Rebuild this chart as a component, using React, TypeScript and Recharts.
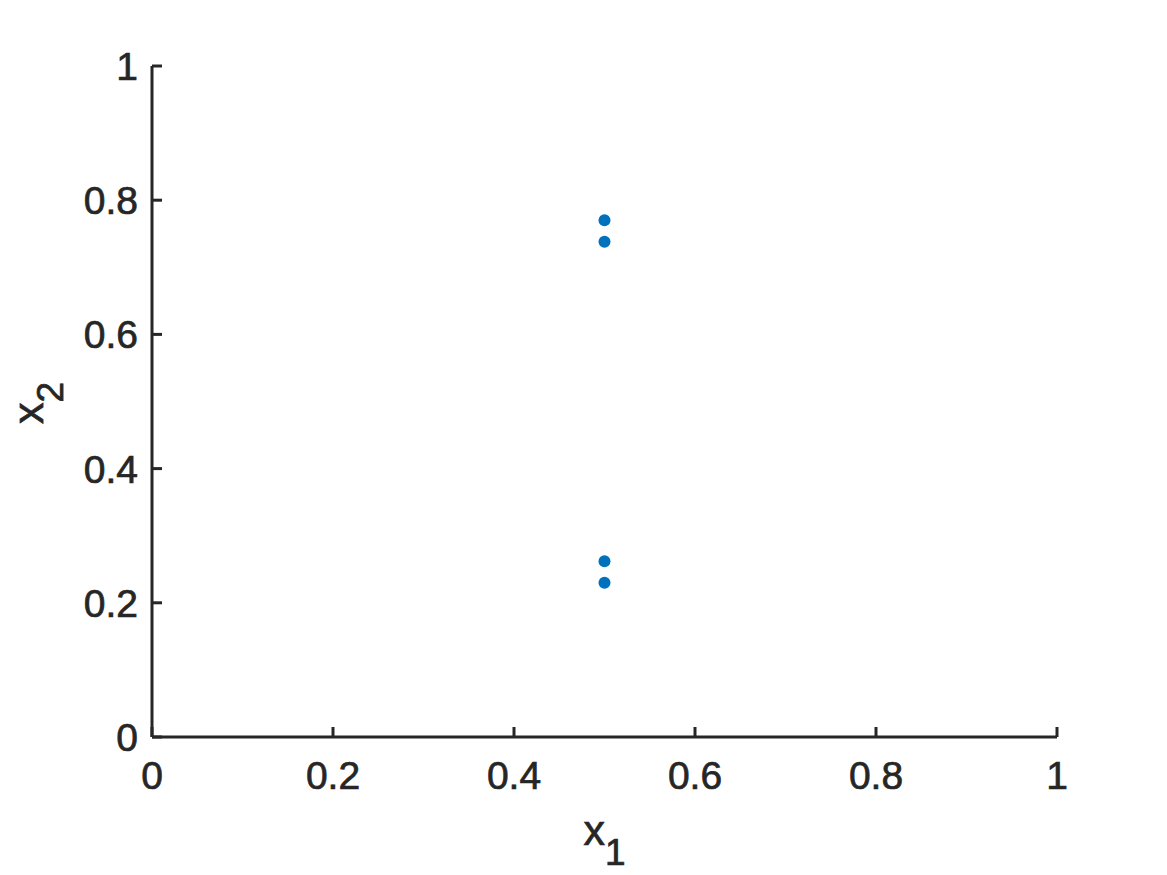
import React from 'react';
import { ScatterChart, Scatter, XAxis, YAxis } from 'recharts';

const x1Values = [0.5, 0.5, 0.5, 0.5];
const x2Values = [0.77, 0.738, 0.262, 0.23];
const xTicks = [0, 0.2, 0.4, 0.6, 0.8, 1];
const yTicks = [0, 0.2, 0.4, 0.6, 0.8, 1];

const points = x1Values.map((x, i) => ({ x, y: x2Values[i] }));

const FONT = '"Liberation Sans", Arial, Helvetica, sans-serif';
const INK = '#262626';
const TICK_FS = 39;
const LABEL_FS = 43;
const TEXT_STROKE = 0.7;

const XTick = (props: any) => {
  const { x, y, payload } = props;
  return (
    <g>
      <line x1={x} x2={x} y1={y} y2={y - 10} stroke={INK} strokeWidth={3} />
      <text x={x} y={y + 52} textAnchor="middle" fontSize={TICK_FS} fontFamily={FONT} fill={INK} stroke={INK} strokeWidth={TEXT_STROKE}>
        {String(payload.value)}
      </text>
    </g>
  );
};

const YTick = (props: any) => {
  const { x, y, payload } = props;
  return (
    <g>
      <line x1={x} x2={x + 10} y1={y} y2={y} stroke={INK} strokeWidth={3} />
      <text x={x - 14} y={y + 14} textAnchor="end" fontSize={TICK_FS} fontFamily={FONT} fill={INK} stroke={INK} strokeWidth={TEXT_STROKE}>
        {String(payload.value)}
      </text>
    </g>
  );
};

const XLabel = (props: any) => {
  const vb = props.viewBox || {};
  const cx = vb.x + vb.width / 2;
  const y = vb.y + 108;
  return (
    <text x={cx} y={y} textAnchor="middle" fontSize={LABEL_FS} fontFamily={FONT} fill={INK} stroke={INK} strokeWidth={TEXT_STROKE}>
      x<tspan fontSize={37} dy={20}>1</tspan>
    </text>
  );
};

const YLabel = () => {
  const cy = 395;
  const bx = 35;
  return (
    <text
      x={bx}
      y={cy}
      transform={`rotate(-90, ${bx}, ${cy})`}
      textAnchor="middle"
      fontSize={LABEL_FS}
      fontFamily={FONT}
      fill={INK}
      stroke={INK}
      strokeWidth={TEXT_STROKE}
    >
      x<tspan fontSize={37} dy={20}>2</tspan>
    </text>
  );
};

const Dot = (props: any) => {
  const { cx, cy } = props;
  return <circle cx={cx} cy={cy} r={6} fill="#0072BD" />;
};

export default function App() {
  return (
    <div style={{ width: 1159, height: 867, background: '#fff' }}>
      <ScatterChart
        width={1159}
        height={867}
        margin={{ top: 58, right: 110, bottom: 38, left: 44 }}
      >
        <XAxis
          type="number"
          dataKey="x"
          domain={[0, 1]}
          ticks={xTicks}
          height={100}
          tickSize={0}
          tickMargin={0}
          tickLine={false}
          tick={<XTick />}
          axisLine={{ stroke: INK, strokeWidth: 3 }}
          interval={0}
          label={<XLabel />}
        />
        <YAxis
          type="number"
          dataKey="y"
          domain={[0, 1]}
          ticks={yTicks}
          width={100}
          tickSize={0}
          tickMargin={0}
          tickLine={false}
          tick={<YTick />}
          axisLine={{ stroke: INK, strokeWidth: 3 }}
          interval={0}
          label={<YLabel />}
        />
        <Scatter data={points} shape={<Dot />} isAnimationActive={false} />
      </ScatterChart>
    </div>
  );
}
